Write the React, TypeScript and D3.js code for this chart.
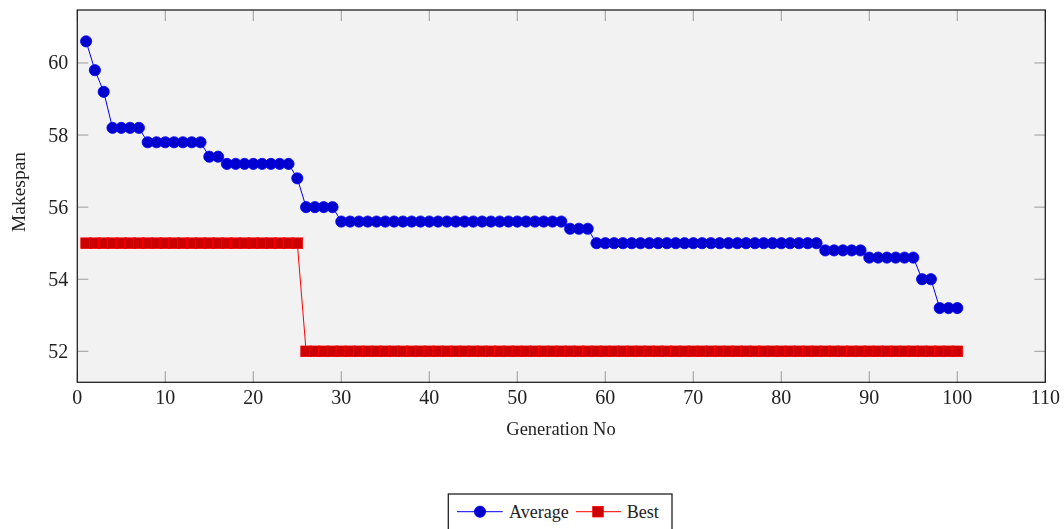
import React, {useRef, useEffect} from "react";
import * as d3 from "d3";

// generation numbers 1..100
const generations: number[] = Array.from({length: 100}, (_, i) => i + 1);

// average makespan per generation (run by run)
const averageRuns: [number, number][] = [
  [60.6, 1],
  [59.8, 1],
  [59.2, 1],
  [58.2, 4],
  [57.8, 7],
  [57.4, 2],
  [57.2, 8],
  [56.8, 1],
  [56.0, 4],
  [55.6, 26],
  [55.4, 3],
  [55.0, 26],
  [54.8, 5],
  [54.6, 6],
  [54.0, 2],
  [53.2, 3],
];

// best makespan per generation
const bestRuns: [number, number][] = [
  [55, 25],
  [52, 75],
];

const expand = (runs: [number, number][]) =>
  runs.flatMap(([v, n]) => Array.from({length: n}, () => v));

const averageValues = expand(averageRuns);
const bestValues = expand(bestRuns);

const xTicks = [0, 10, 20, 30, 40, 50, 60, 70, 80, 90, 100, 110];
const yTicks = [52, 54, 56, 58, 60];

const App = () => {
  const svgRef = useRef<SVGSVGElement>(null);

  useEffect(() => {
    const svg = d3.select(svgRef.current);
    svg.selectAll("*").remove();

    const left = 77.3, right = 1045.3, top = 10, bottom = 382.3;
    const font = "'Liberation Serif', 'Times New Roman', serif";

    const xScale = d3.scaleLinear().domain([0, 110]).range([left, right]);
    const yScale = d3.scaleLinear().domain([51.14, 61.47]).range([bottom, top]);

    // plot background
    svg
      .append("rect")
      .attr("x", left)
      .attr("y", top)
      .attr("width", right - left)
      .attr("height", bottom - top)
      .attr("fill", "#f2f2f2");

    // ticks (inward, on all sides)
    const tl = 11;
    const ticks = svg.append("g").attr("stroke", "#9a9a9a").attr("stroke-width", 1);
    xTicks.forEach((t) => {
      const x = xScale(t);
      ticks.append("line").attr("x1", x).attr("x2", x).attr("y1", bottom).attr("y2", bottom - tl);
      ticks.append("line").attr("x1", x).attr("x2", x).attr("y1", top).attr("y2", top + tl);
    });
    yTicks.forEach((t) => {
      const y = yScale(t);
      ticks.append("line").attr("x1", left).attr("x2", left + tl).attr("y1", y).attr("y2", y);
      ticks.append("line").attr("x1", right).attr("x2", right - tl).attr("y1", y).attr("y2", y);
    });

    // tick labels
    svg
      .append("g")
      .selectAll("text")
      .data(xTicks)
      .enter()
      .append("text")
      .attr("x", (d) => xScale(d))
      .attr("y", 404)
      .attr("text-anchor", "middle")
      .attr("font-family", font)
      .attr("font-size", 20)
      .attr("fill", "#222")
      .text((d) => d);

    svg
      .append("g")
      .selectAll("text")
      .data(yTicks)
      .enter()
      .append("text")
      .attr("x", 68.3)
      .attr("y", (d) => yScale(d) + 6.5)
      .attr("text-anchor", "end")
      .attr("font-family", font)
      .attr("font-size", 20)
      .attr("fill", "#222")
      .text((d) => d);

    // series
    const series = [
      {values: averageValues, line: "#0000ff", fill: "#0000cc", mark: "circle"},
      {values: bestValues, line: "#ff0000", fill: "#cc0000", mark: "square"},
    ];

    const lineGen = d3
      .line<number>()
      .x((_, i) => xScale(generations[i]))
      .y((d) => yScale(d));

    series.forEach((s) => {
      const g = svg.append("g");
      g.append("path")
        .attr("d", lineGen(s.values))
        .attr("fill", "none")
        .attr("stroke", s.line)
        .attr("stroke-width", 1);
      if (s.mark === "circle") {
        g.selectAll("circle")
          .data(s.values)
          .enter()
          .append("circle")
          .attr("cx", (_, i) => xScale(generations[i]))
          .attr("cy", (d) => yScale(d))
          .attr("r", 5.6)
          .attr("fill", s.fill)
          .attr("stroke", s.line)
          .attr("stroke-width", 0.8);
      } else {
        g.selectAll("rect")
          .data(s.values)
          .enter()
          .append("rect")
          .attr("x", (_, i) => xScale(generations[i]) - 5.3)
          .attr("y", (d) => yScale(d) - 5.3)
          .attr("width", 10.6)
          .attr("height", 10.6)
          .attr("fill", s.fill)
          .attr("stroke", s.line)
          .attr("stroke-width", 0.8);
      }
    });

    // frame
    svg
      .append("rect")
      .attr("x", left)
      .attr("y", top)
      .attr("width", right - left)
      .attr("height", bottom - top)
      .attr("fill", "none")
      .attr("stroke", "#222")
      .attr("stroke-width", 1.3);

    // axis labels
    svg
      .append("text")
      .attr("x", 561)
      .attr("y", 435)
      .attr("text-anchor", "middle")
      .attr("font-family", font)
      .attr("font-size", 18.5)
      .attr("fill", "#222")
      .text("Generation No");

    svg
      .append("text")
      .attr("transform", "translate(25, 192) rotate(-90)")
      .attr("text-anchor", "middle")
      .attr("font-family", font)
      .attr("font-size", 19.5)
      .attr("fill", "#222")
      .text("Makespan");

    // legend
    const lg = svg.append("g");
    lg.append("rect")
      .attr("x", 448.3)
      .attr("y", 494)
      .attr("width", 223.7)
      .attr("height", 40)
      .attr("fill", "white")
      .attr("stroke", "#222")
      .attr("stroke-width", 1.3);

    const ly = 511.7;
    lg.append("line").attr("x1", 457).attr("x2", 502.7).attr("y1", ly).attr("y2", ly)
      .attr("stroke", "#0000ff").attr("stroke-width", 1);
    lg.append("circle").attr("cx", 480).attr("cy", ly).attr("r", 5.6)
      .attr("fill", "#0000cc").attr("stroke", "#0000ff").attr("stroke-width", 0.8);
    lg.append("text").attr("x", 509).attr("y", 517.5)
      .attr("font-family", font).attr("font-size", 18).attr("fill", "#222").text("Average");

    lg.append("line").attr("x1", 576).attr("x2", 621).attr("y1", ly).attr("y2", ly)
      .attr("stroke", "#ff0000").attr("stroke-width", 1);
    lg.append("rect").attr("x", 598 - 5.3).attr("y", ly - 5.3).attr("width", 10.6).attr("height", 10.6)
      .attr("fill", "#cc0000").attr("stroke", "#ff0000").attr("stroke-width", 0.8);
    lg.append("text").attr("x", 626.7).attr("y", 517.5)
      .attr("font-family", font).attr("font-size", 18).attr("fill", "#222").text("Best");
  }, []);

  return (
    <div style={{position: "fixed", left: 0, top: 0}}>
      <svg ref={svgRef} width={1064} height={529} style={{display: "block"}}></svg>
    </div>
  );
};

export default App;
